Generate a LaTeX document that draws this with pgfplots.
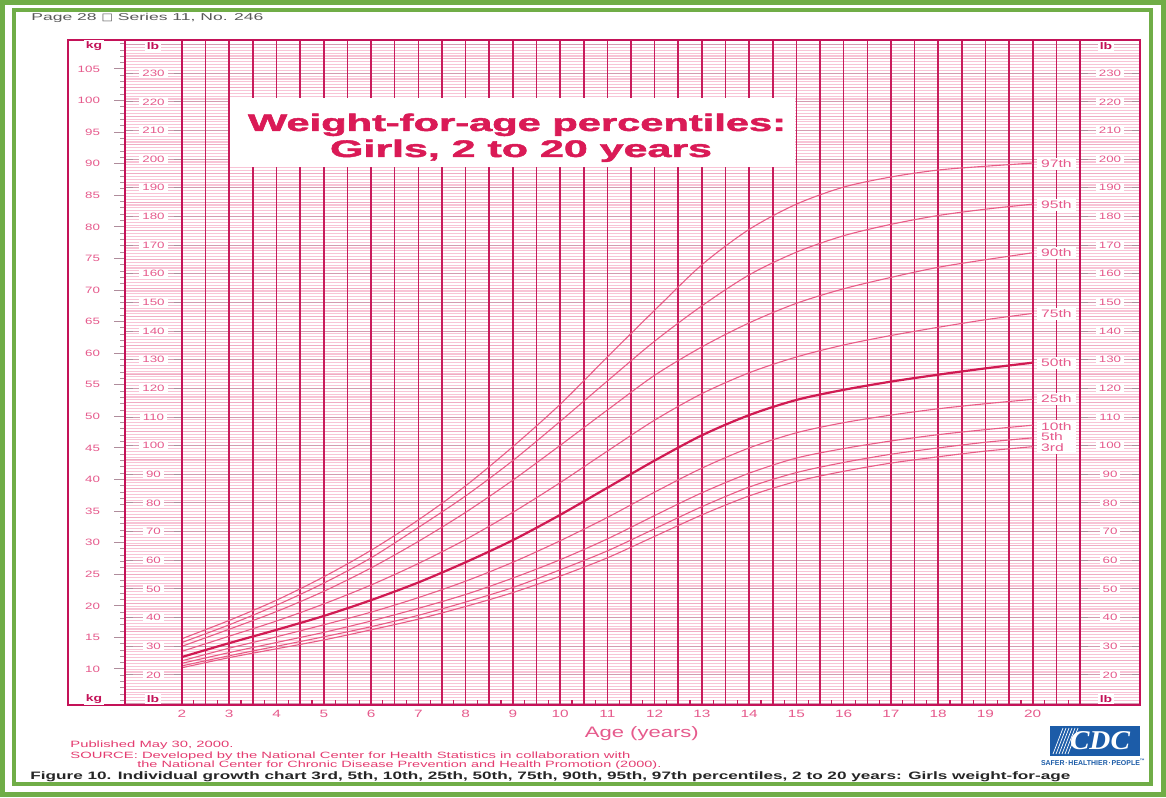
\documentclass[border=0pt]{standalone}
\usepackage{pgfplots}
\usepackage{pgfplotstable}
\pgfplotsset{compat=1.18}
\usepackage{fontspec}
\setmainfont{Liberation Sans}[FakeStretch=1.45]
\newfontfamily\titlefont{Liberation Sans Bold}[FakeBold=1.6]
\newfontfamily\dejavu{DejaVu Sans}
\newfontfamily\logofont{Liberation Serif}[FakeStretch=1.2]
\definecolor{framepink}{RGB}{196,18,88}
\definecolor{vlinepink}{RGB}{200,28,92}
\definecolor{gridlight}{RGB}{248,196,214}
\definecolor{gridmid}{RGB}{240,172,196}
\definecolor{gridmaj}{RGB}{212,155,176}
\definecolor{curvepink}{RGB}{232,92,134}
\definecolor{p50col}{RGB}{208,26,82}
\definecolor{labelpink}{RGB}{230,90,140}
\definecolor{titlered}{RGB}{218,26,86}
\definecolor{tickgray}{RGB}{175,140,155}
\definecolor{greenframe}{RGB}{112,173,71}
\definecolor{cdcblue}{RGB}{28,92,168}
\definecolor{srcpink}{RGB}{228,60,112}
\pgfplotsset{/pgf/number format/assume math mode=true}

% Weight (kg) for age (years), girls
\pgfplotstableread{
age p3   p5   p10  p25  p50  p75  p90  p95  p97
2   10.2 10.5 10.9 11.3 11.9 12.8 13.6 14.2 14.8
3   11.8 12.1 12.6 13.3 14.1 15.2 16.3 17.0 17.7
4   13.2 13.6 14.2 15.1 16.2 17.6 19.1 20.1 20.9
5   14.6 15.1 15.8 17.0 18.4 20.3 22.3 23.6 24.6
6   16.2 16.7 17.6 19.0 20.9 23.3 26.0 27.6 28.8
7   17.9 18.5 19.6 21.3 23.7 26.7 30.2 32.4 33.6
8   19.9 20.6 21.8 23.9 26.9 30.5 34.8 37.4 39.0
9   22.1 22.9 24.4 26.9 30.4 34.8 39.9 43.0 45.2
10  24.7 25.7 27.3 30.3 34.4 39.5 45.4 49.2 51.9
11  27.6 28.7 30.6 34.0 38.7 44.5 51.0 55.6 59.4
12  31.0 32.2 34.3 38.0 43.0 49.4 56.5 61.9 66.8
13  34.4 35.7 37.9 41.8 47.0 53.6 61.0 67.5 74.0
14  37.4 38.8 41.0 45.0 50.2 56.9 64.8 72.4 79.6
15  39.7 41.1 43.4 47.4 52.6 59.4 67.9 76.0 83.6
16  41.3 42.7 44.9 49.0 54.2 61.3 70.2 78.6 86.3
17  42.6 44.0 46.1 50.2 55.5 62.8 72.0 80.4 87.9
18  43.6 45.0 47.1 51.2 56.6 64.1 73.6 81.8 89.0
19  44.5 45.9 47.9 52.0 57.6 65.3 74.8 82.8 89.6
20  45.2 46.6 48.6 52.7 58.5 66.3 75.9 83.6 90.1
}\wtdata

\begin{document}
\begin{tikzpicture}
\useasboundingbox (0,0) rectangle (583pt,398.5pt);
\fill[white] (0,0) rectangle (583pt,398.5pt);

% ---------- background lb grid (lb columns + age grid) ----------
\begin{axis}[
  at={(62.5pt,46pt)}, anchor=south west, scale only axis,
  width=507.5pt, height=332.5pt,
  xmin=0, xmax=1, ymin=9.48, ymax=241.6,
  axis line style={draw=none},
  xtick=\empty,
  ytick={10,20,...,240}, yticklabels={},
  minor y tick num=9,
  extra y ticks={15,25,...,235}, extra y tick labels={},
  major tick length=0pt, minor tick length=0pt,
  ymajorgrids, yminorgrids,
  major grid style={draw=gridmaj, line width=0.5pt},
  minor grid style={draw=gridlight, line width=0.55pt},
  extra y tick style={ymajorgrids, major grid style={draw=gridmid, line width=0.5pt}},
]
\end{axis}

% ---------- main age axis with curves ----------
\begin{axis}[
  at={(91pt,46pt)}, anchor=south west, scale only axis,
  width=449pt, height=332.5pt,
  xmin=2, xmax=21, ymin=4.30, ymax=109.59,
  axis line style={draw=none},
  ytick=\empty,
  xtick={2,3,...,20},
  minor xtick={2.5,3.5,...,20.5},
  extra x ticks={21}, extra x tick labels={},
  extra x tick style={xmajorgrids},
  xmajorgrids, xminorgrids,
  major grid style={draw=vlinepink, line width=0.8pt},
  minor grid style={draw=vlinepink, line width=0.8pt},
  major tick length=0pt, minor tick length=0pt,
  xticklabel style={text=labelpink, font=\fontsize{5.3}{6}\selectfont, yshift=1pt},
  clip=false,
]
\addplot[curvepink, line width=0.55pt, smooth] table[x=age,y=p3]{\wtdata};
\addplot[curvepink, line width=0.55pt, smooth] table[x=age,y=p5]{\wtdata};
\addplot[curvepink, line width=0.55pt, smooth] table[x=age,y=p10]{\wtdata};
\addplot[curvepink, line width=0.55pt, smooth] table[x=age,y=p25]{\wtdata};
\addplot[p50col, line width=1.1pt, smooth] table[x=age,y=p50]{\wtdata};
\addplot[curvepink, line width=0.55pt, smooth] table[x=age,y=p75]{\wtdata};
\addplot[curvepink, line width=0.55pt, smooth] table[x=age,y=p90]{\wtdata};
\addplot[curvepink, line width=0.55pt, smooth] table[x=age,y=p95]{\wtdata};
\addplot[curvepink, line width=0.55pt, smooth] table[x=age,y=p97]{\wtdata};
\tikzset{plbl/.style={fill=white, inner xsep=2pt, inner ysep=1pt, text=labelpink, font=\fontsize{5.4}{5.3}\selectfont}}
\node[plbl] at (axis cs:20.5,89.95) {97th};
\node[plbl] at (axis cs:20.5,83.46) {95th};
\node[plbl] at (axis cs:20.5,75.86) {90th};
\node[plbl] at (axis cs:20.5,66.2) {75th};
\node[plbl] at (axis cs:20.5,58.45) {50th};
\node[plbl] at (axis cs:20.5,52.75) {25th};
\node[plbl, align=left] at (axis cs:20.5,46.73) {10th\\5th\\3rd};
\node[text=labelpink, font=\fontsize{7.6}{9}\selectfont, anchor=base] at (axis cs:11.73,-0.9) {Age (years)};
\end{axis}

% ---------- quarter-year ticks ----------
\begin{axis}[
  at={(91pt,46pt)}, anchor=south west, scale only axis,
  width=449pt, height=332.5pt,
  xmin=2, xmax=21, ymin=0, ymax=1,
  axis line style={draw=none},
  ytick=\empty,
  xtick={2.25,2.75,...,20.75}, xticklabels={},
  xtick pos=bottom, tick align=inside, major tick length=2.6pt,
  tick style={draw=vlinepink, line width=0.6pt},
]
\end{axis}

% ---------- kg column ----------
\begin{axis}[
  at={(34pt,46pt)}, anchor=south west, scale only axis,
  width=28.5pt, height=332.5pt,
  xmin=0, xmax=1, ymin=4.30, ymax=109.59,
  axis line style={draw=none},
  xtick=\empty,
  ytick={10,15,...,105},
  minor ytick={5,6,...,109},
  ytick pos=right, yticklabel pos=left,
  tick align=inside,
  major tick length=5.5pt, minor tick length=2.6pt,
  tick style={draw=tickgray, line width=0.5pt},
  yticklabel style={anchor=east, xshift=19.5pt, text=labelpink, font=\fontsize{4.6}{5}\selectfont},
]
\end{axis}

% ---------- left lb column ----------
\begin{axis}[
  at={(62.5pt,46pt)}, anchor=south west, scale only axis,
  width=28.5pt, height=332.5pt,
  xmin=0, xmax=1, ymin=9.48, ymax=241.6,
  axis line style={draw=none},
  xtick=\empty,
  ytick={20,30,...,230},
  ytick pos=both, yticklabel pos=left, tick align=inside,
  major tick length=4pt,
  tick style={draw=tickgray, line width=0.5pt},
  yticklabel style={anchor=center, xshift=14.25pt, fill=white, inner xsep=1.5pt, inner ysep=0.8pt, text=labelpink, font=\fontsize{4.6}{5}\selectfont},
]
\end{axis}

% ---------- right lb column ----------
\begin{axis}[
  at={(540pt,46pt)}, anchor=south west, scale only axis,
  width=30pt, height=332.5pt,
  xmin=0, xmax=1, ymin=9.48, ymax=241.6,
  axis line style={draw=none},
  xtick=\empty,
  ytick={20,30,...,230},
  ytick pos=both, yticklabel pos=left, tick align=inside,
  major tick length=4pt,
  tick style={draw=tickgray, line width=0.5pt},
  yticklabel style={anchor=center, xshift=15pt, fill=white, inner xsep=1.5pt, inner ysep=0.8pt, text=labelpink, font=\fontsize{4.6}{5}\selectfont},
]
\end{axis}

% ---------- decorations in pixel coordinates ----------
\begin{scope}[shift={(0pt,398.5pt)}, x=0.5pt, y=-0.5pt]
  % chart frame
  \draw[framepink, line width=0.8pt] (68,40) rectangle (1140,705);
  \draw[framepink, line width=0.8pt] (125,40) -- (125,705);
  \draw[framepink, line width=0.8pt] (182,40) -- (182,705);
  \draw[framepink, line width=0.8pt] (1080,40) -- (1080,705);
  % column headers
  \tikzset{hdr/.style={font=\fontsize{4.8}{5}\selectfont\bfseries, text=framepink, fill=white, inner sep=0.8pt}}
  \node[hdr] at (94,46) {kg};
  \node[hdr] at (153,46) {lb};
  \node[hdr] at (1106,46) {lb};
  \node[hdr] at (94,699) {kg};
  \node[hdr] at (153,699) {lb};
  \node[hdr] at (1106,699) {lb};
  % title box
  \fill[white] (230,98) rectangle (795,167);
  \node[anchor=base, text=titlered, inner sep=0] at (517,131)
    {\resizebox{269pt}{8.7pt}{\titlefont Weight-for-age percentiles:}};
  \node[anchor=base, text=titlered, inner sep=0] at (521,157)
    {\resizebox{191pt}{8.7pt}{\titlefont Girls, 2 to 20 years}};
  % top text
  \node[anchor=base west, inner sep=0, text=black!65] at (31,21)
    {\resizebox{116pt}{3.6pt}{Page 28 {\dejavu □} Series 11, No. 246}};
  % source notes
  \node[anchor=base west, inner sep=0, text=srcpink] at (70,748)
    {\resizebox{81.5pt}{3.3pt}{Published May 30, 2000.}};
  \node[anchor=base west, inner sep=0, text=srcpink] at (70,758)
    {\resizebox{280pt}{3.3pt}{SOURCE: Developed by the National Center for Health Statistics in collaboration with}};
  \node[anchor=base west, inner sep=0, text=srcpink] at (137,767)
    {\resizebox{262pt}{3.3pt}{the National Center for Chronic Disease Prevention and Health Promotion (2000).}};
  \node[anchor=base west, inner sep=0, text=black!85] at (30,779)
    {\resizebox{520pt}{3.9pt}{\bfseries Figure 10. Individual growth chart 3rd, 5th, 10th, 25th, 50th, 75th, 90th, 95th, 97th percentiles, 2 to 20 years: Girls weight-for-age}};
  % CDC logo
  \fill[cdcblue] (1050,726) rectangle (1140,756);
  \foreach \i in {0,...,5} {\draw[white, line width=0.35pt] (1053+\i*3,754) -- (1063+\i*3,728);}
  \node[text=white, inner sep=0, anchor=center] at (1100,741)
    {\resizebox{30pt}{9pt}{\logofont\bfseries\itshape CDC}};
  \node[anchor=base, inner sep=0, text=cdcblue] at (1093,765)
    {\resizebox{52pt}{3pt}{\bfseries SAFER\,·\,HEALTHIER\,·\,PEOPLE\textsuperscript{™}}};
  % green frames
  \draw[greenframe, line width=2.5pt] (2.5,2.5) rectangle (1163.5,794.5);
  \draw[greenframe, line width=2pt] (14,10) rectangle (1151,784);
\end{scope}
\end{tikzpicture}
\end{document}
